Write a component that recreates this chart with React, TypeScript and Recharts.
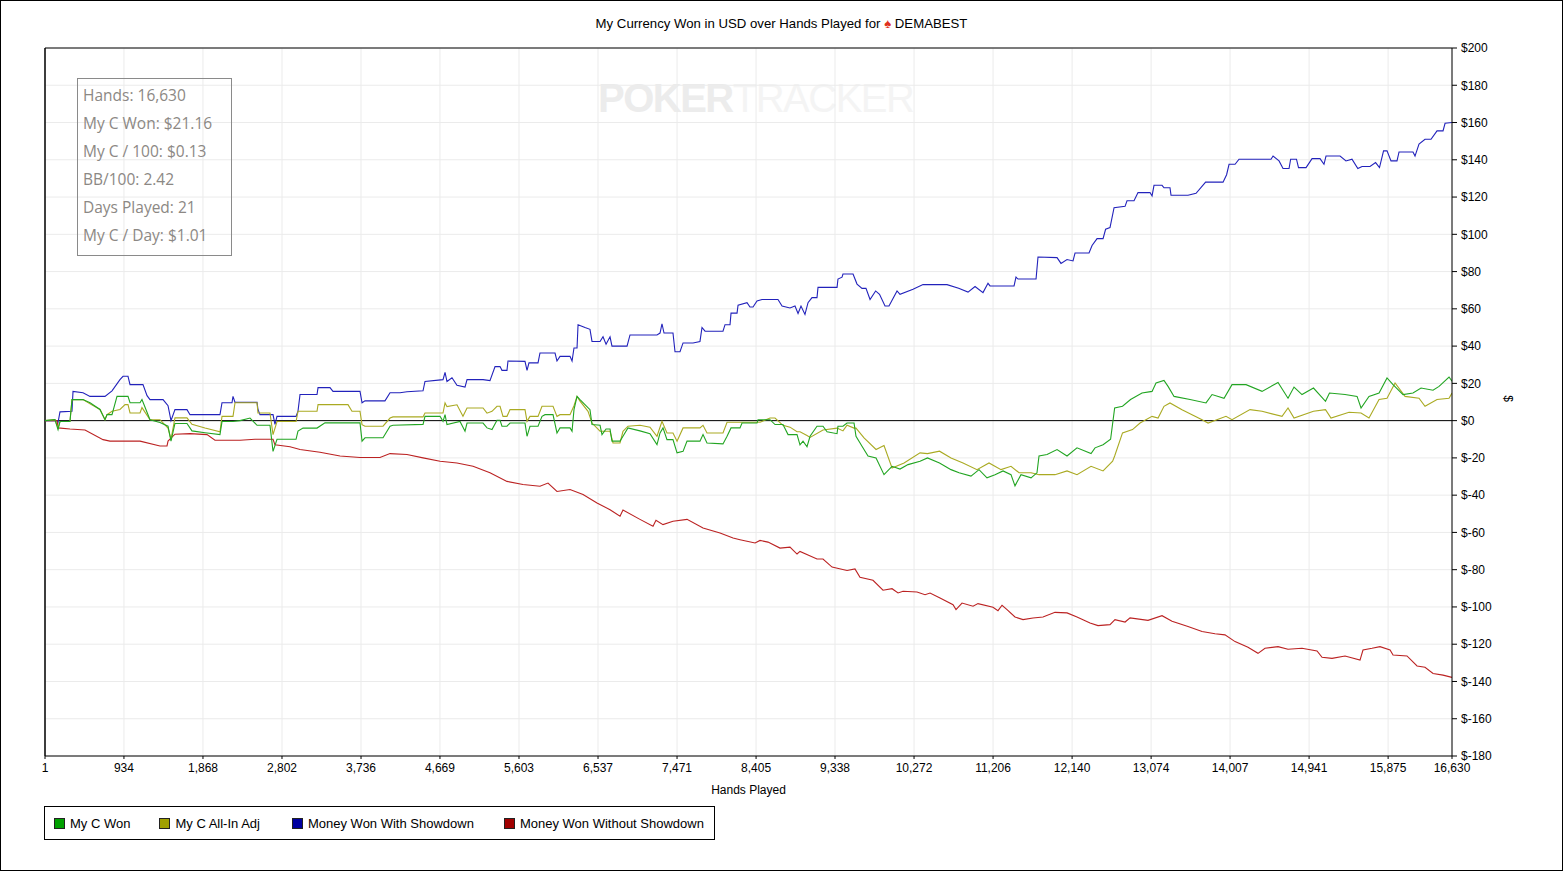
import React from "react";
import { LineChart, Line, XAxis, YAxis, CartesianGrid, ReferenceLine } from "recharts";

// ---------- Data (hands played -> cumulative USD) ----------
const showdownHands = [1,143,155,178,320,332,450,533,710,793,887,923,982,1006,1159,1207,1242,1396,1455,1490,1537,1679,1715,2069,2093,2211,2223,2247,2507,2518,2542,2696,2719,2743,2968,2991,3015,3216,3228,3369,3405,3724,3748,3783,4019,4079,4197,4279,4469,4492,4705,4729,4752,4811,4870,4965,4989,5178,5260,5320,5379,5402,5461,5473,5674,5698,5721,5828,5851,6029,6052,6088,6206,6230,6253,6289,6301,6383,6442,6466,6561,6596,6632,6679,6702,6880,6915,7234,7270,7293,7317,7423,7447,7506,7542,7660,7742,7766,7802,8014,8038,8097,8109,8180,8192,8298,8333,8369,8416,8475,8664,8712,8806,8865,8901,8936,8983,9019,9066,9125,9137,9362,9373,9421,9432,9551,9598,9657,9704,9752,9818,9864,9929,9976,10071,10106,10260,10378,10662,10799,10910,10993,11087,11146,11170,11454,11477,11501,11714,11737,11962,12009,12080,12151,12175,12340,12376,12435,12506,12536,12588,12636,12766,12789,12872,12919,13061,13085,13108,13203,13226,13297,13309,13510,13605,13718,13924,13966,13995,14066,14113,14491,14515,14586,14633,14704,14723,14792,14816,14905,14976,15070,15117,15141,15307,15377,15448,15517,15567,15661,15727,15773,15821,15862,15909,15980,16004,16169,16193,16240,16311,16382,16453,16524,16548,16630];
const showdownWon = [0,0,-1,4.7,5,15.7,15,13,13,16,22,23.8,23.8,19.3,19.3,13.4,11.3,11.3,8,0,5.9,5.9,3.2,3.2,9.6,9.6,13,9.8,9.8,6,3.2,3.2,-2,2.3,2.3,5,14,14,17.7,17.7,15.7,15.7,9.6,10.6,10.6,15,15,15.5,16,21,22,25.9,21,23,19,18,22,22,21.5,29,29,27,27,32,31.8,27,31,31,36.3,36.3,32,34.5,34.5,32,39,39,51.5,50,49,42.5,42.5,45,41,45,40,40,46,46,47,52,47,47,37,37,41.7,41.7,42.5,50,48,48,51.5,51.5,57.7,57.7,62,63.3,61,61,64.2,65,65,61.5,60.5,61.5,57.5,61.5,57,63.3,66,66,71.5,71.5,76,77,78.7,78.7,73.3,71,71,65,69.6,67.8,61.5,61.5,69.6,67.8,70.5,73,73,71,69,72,68.7,73.7,72.3,72.3,77,76,76,87.8,87.5,84.4,86.5,85.7,90,90,94,97.7,97.7,102.7,103.6,114.3,115,118,118,122.4,122.4,120.6,126.3,126.3,125,125,121,121,122,128,128,132,137.6,137.6,140.3,140.3,142,139.4,135.3,135.3,140.3,140.3,135.8,135.8,140.6,140.6,137.6,142,142,139.4,140.3,135.3,136.4,136.4,138.5,135.8,144.8,144.8,139.4,139.4,144.2,144.2,142,148.4,151,151,155.5,155.5,159.6,160];

const wonHands = [1,119,155,178,296,320,450,533,651,710,734,793,852,982,1006,1124,1147,1242,1360,1455,1490,1537,1679,1738,1892,2069,2093,2223,2306,2424,2507,2660,2696,2743,2968,2991,3050,3216,3310,3724,3748,3783,3996,4079,4114,4469,4492,4670,4705,4729,4752,4906,4965,4989,5178,5225,5284,5343,5379,5402,5461,5497,5674,5698,5733,5828,5875,5911,6005,6052,6088,6206,6230,6253,6289,6324,6442,6466,6561,6584,6632,6679,6702,6797,6832,6891,7033,7151,7234,7270,7305,7352,7423,7471,7542,7589,7742,7778,7825,8014,8062,8109,8215,8239,8416,8428,8570,8629,8723,8783,8889,8924,8960,9007,9043,9125,9196,9244,9362,9373,9432,9480,9563,9586,9657,9728,9823,9917,10012,10106,10201,10343,10431,10573,10709,10804,10945,11040,11134,11229,11324,11418,11465,11536,11655,11725,11749,11844,11962,12080,12198,12364,12411,12506,12595,12643,12736,12831,12966,13085,13132,13226,13274,13345,13534,13723,13794,13936,14030,14196,14385,14574,14692,14763,14857,14993,15135,15182,15366,15508,15555,15649,15768,15862,15933,16051,16169,16264,16406,16477,16595,16630];
const myCWon = [0,0.5,-4.8,-0.5,-0.5,11.3,11.3,9.6,6,0.5,3.2,3.2,13,13,9.6,9.6,11.3,0.5,-1,-3,-11,-1.5,-1.5,-5.5,-6.5,-7.5,-0.5,-0.5,0,1.4,-2.5,-2.5,-16.5,-10,-10,-5.6,-4,-4,-1.2,-1.2,-11,-9.2,-9.2,-3,-2.5,-2,2.3,2.3,-0.4,3.2,-2.1,-0.4,-5.7,-1.3,-1.3,-3.9,-4.8,0.2,0.2,-3,-3,-1.3,-1.3,-8.4,-3,-3,2.3,3.2,3.2,-6.6,-3.9,-3.9,-5.7,5.9,13,11.3,5.9,-2.1,-2.5,-7.5,-4.5,-4.5,-11,-11,-8.4,-3.9,-5.5,-7,-12.9,-6.6,-3.9,-10.2,-10.2,-17.3,-16.5,-11,-11,-7.5,-12,-12.5,-8.4,-3.9,-3.9,-1.3,-1.3,0.5,0.5,-2.1,-2.1,-7.5,-7.5,-13,-11,-14,-8.4,-3,-3,-6,-7,-3,-3,-1.3,-1.3,-8.4,-13.8,-19,-20,-29,-24.5,-26,-23.6,-21.8,-20,-22.7,-26.3,-28,-29.8,-26.3,-30.7,-29,-27,-29,-35,-29,-30.7,-28,-19,-18.2,-15.5,-19,-14.6,-17.7,-14.6,-12.9,-10,6.8,7.7,11.3,14.8,15.7,20.2,21.6,18.4,13,11.3,9.5,14,12,19.3,19.3,15.7,20.5,12,18,14,17.5,10.4,14.8,14,13,6.8,13,14.8,22.9,19.3,14,14.8,17.5,16.3,18.4,23.4,21.16];

const allInHands = [1,119,155,178,296,320,450,533,651,710,734,793,887,947,982,1006,1124,1147,1242,1360,1455,1490,1537,1679,1738,1892,2069,2093,2223,2247,2507,2518,2660,2696,2743,2968,2991,3216,3228,3582,3629,3724,3748,3783,3996,4079,4114,4469,4492,4705,4729,4752,4870,4941,4989,5178,5225,5284,5343,5379,5414,5461,5497,5674,5698,5733,5828,5875,6005,6052,6088,6206,6253,6289,6324,6419,6466,6561,6679,6714,6797,6832,6891,7033,7151,7234,7293,7352,7423,7471,7542,7742,7778,7825,8014,8062,8452,8570,8629,8723,8806,8889,8924,9007,9043,9196,9362,9432,9480,9563,9586,9681,9823,9917,10012,10154,10343,10431,10573,10709,10851,11016,11158,11300,11418,11513,11655,11749,11938,12080,12198,12364,12506,12619,12643,12736,12854,12943,13085,13156,13226,13297,13439,13676,13747,13959,14030,14243,14385,14621,14692,14763,14993,15135,15200,15413,15555,15649,15768,15862,15957,16075,16240,16311,16453,16595,16630];
const myCAllIn = [0,0.5,-4,-0.5,-0.5,11.3,11.3,9,6,0.5,3.2,5,6,8.6,8.6,4.1,4.1,7,0.5,0.5,-4,-10,1.5,1.5,-2,-4,-6,2.3,2.3,9.6,9.6,4.1,4.1,-7.5,-0.5,-0.5,5,5,8.6,8.6,5,5,-2.2,-3,-3,1.4,2,2,4.1,4.1,9.5,7.5,8.5,2.3,6.8,6.8,4,5,7.7,7.7,2.3,2.3,5.9,5.9,-0.4,2.3,2.3,7.7,7.7,2.3,3.2,3.2,8,13,10.5,5,-1.3,-5.7,-5.7,-12,-12,-5.7,-3,-2.5,-3.5,-8.4,-0.4,-6.6,-6.6,-11,-3.9,-3.9,-2.5,-6.6,-6.6,-0.9,-0.9,1.4,1.4,-2.5,-3.5,-6,-6,-8,-9,-5,-4,-5.5,-2.5,-4,-4,-9.3,-15.5,-13.4,-25.4,-22.7,-17.3,-17.7,-16.4,-20,-22.7,-26.3,-22.7,-26.3,-24.5,-28,-28,-29,-29,-27,-29,-24.5,-27,-21.8,-19,-6.6,-4.8,-1.3,2.3,1.4,7.7,9.5,5.9,0.5,-1.3,2.3,0.5,5.9,5,2.3,6.8,1.4,5,5.9,1.4,4.5,4.1,1.4,11.3,12,20.2,13,12,7.7,11.3,12,14.8,14];

const noShowdownHands = [1,143,155,296,474,687,769,970,1124,1360,1443,1455,1537,1715,1916,2010,2306,2483,2696,2719,2897,3015,3251,3488,3724,3960,4079,4279,4469,4670,4870,5060,5260,5461,5650,5851,5946,6052,6206,6360,6525,6679,6797,6832,7033,7187,7222,7305,7423,7589,7778,7979,8133,8215,8393,8452,8546,8688,8806,8889,8924,9125,9196,9303,9480,9574,9633,9787,9905,10012,10083,10142,10307,10402,10461,10579,10733,10768,10839,10969,11028,11205,11264,11312,11371,11465,11560,11678,11796,11938,12080,12198,12352,12446,12588,12647,12766,12825,13037,13203,13321,13510,13676,13829,13947,14066,14219,14337,14420,14574,14692,14857,15035,15094,15212,15366,15543,15578,15685,15779,15898,15933,16098,16217,16311,16406,16524,16630];
const noShowdownWon = [0,0,-3.9,-4.5,-5,-10.2,-11,-11,-11,-13.6,-13.6,-11,-7.3,-7,-7.5,-10.5,-10.5,-10,-10,-13,-14,-15.5,-17,-19,-19.8,-19.8,-17.7,-18.2,-20,-21.8,-22.7,-24.5,-28,-32.6,-34.3,-35.2,-33.5,-38,-37,-39.7,-44.2,-47.8,-51.3,-48,-53,-56.7,-53.5,-55.8,-54,-53,-57.6,-60.3,-63,-63.9,-65.7,-64.3,-65.2,-68.4,-67.9,-71.6,-70.2,-74.3,-74.3,-78.6,-80.4,-79.6,-84.1,-85.7,-91,-90.2,-92.5,-91.6,-92,-93.4,-92.5,-95.2,-98.8,-101.4,-97.9,-99.6,-98.2,-100.2,-102,-99.1,-101.4,-105.4,-106.8,-105.9,-105.4,-102.9,-103.2,-105.4,-108.6,-110,-109.5,-106.8,-108.1,-105.9,-107.2,-104.7,-107.7,-110.5,-113.2,-114.4,-115,-118.6,-121.6,-124.9,-122.2,-121.3,-122.7,-122.2,-123.6,-127,-127.6,-126.3,-128.5,-123.1,-122.2,-121.3,-123.1,-125.8,-126.3,-131.7,-132.4,-135.7,-136.6,-137.8];

const xTicks = [1,934,1868,2802,3736,4669,5603,6537,7471,8405,9338,10272,11206,12140,13074,14007,14941,15875,16630];
const yTicks = [-180,-160,-140,-120,-100,-80,-60,-40,-20,0,20,40,60,80,100,120,140,160,180,200];

const statLines = ["Hands: 16,630","My C Won: $21.16","My C / 100: $0.13","BB/100: 2.42","Days Played: 21","My C / Day: $1.01"];

const seriesNames = ["My C Won","My C All-In Adj","Money Won With Showdown","Money Won Without Showdown"];
const lineColors = ["#22a522","#aaaa22","#2222bb","#bb2222"];
const legendColors = ["#00a000","#a0a000","#0000a0","#a00000"];

const toRows = (hs: number[], vs: number[]) => hs.map((h, i) => ({ h, v: vs[i] }));

const fmtHands = (v: number) => v.toLocaleString("en-US");
const fmtUsd = (v: number) => (v < 0 ? "$-" + Math.abs(v) : "$" + v);

const FONT = "'Liberation Sans', Arial, sans-serif";

export default function App() {
  const seriesData = [
    toRows(wonHands, myCWon),
    toRows(allInHands, myCAllIn),
    toRows(showdownHands, showdownWon),
    toRows(noShowdownHands, noShowdownWon),
  ];
  const drawOrder = [2, 3, 1, 0];
  const legendGaps = [29, 32, 30, 0];
  return (
    <div style={{ position: "absolute", left: 0, top: 0, width: 1563, height: 871, background: "#fff", fontFamily: FONT }}>
      <div style={{ position: "absolute", left: 0, top: 16, width: 1563, textAlign: "center", fontSize: 13.2, color: "#000", fontFamily: FONT }}>
        My Currency Won in USD over Hands Played for <span style={{ color: "#e03020" }}>♠</span> DEMABEST
      </div>
      <div style={{ position: "absolute", left: 598, top: 75, fontSize: 40, lineHeight: "46px", whiteSpace: "nowrap", fontFamily: FONT, letterSpacing: -1.5 }}>
        <span style={{ color: "#ececec", fontWeight: 700 }}>POKER</span>
        <span style={{ color: "#f4f4f4" }}>TRACKER</span>
      </div>
      <LineChart
        width={1563}
        height={871}
        margin={{ top: 48, left: 45, right: 41, bottom: 75 }}
        style={{ position: "absolute", left: 0, top: 0 }}
      >
        <CartesianGrid stroke="#ebebeb" strokeWidth={1} />
        <XAxis
          type="number"
          dataKey="h"
          domain={[1, 16630]}
          ticks={xTicks}
          tickFormatter={fmtHands}
          interval={0}
          allowDataOverflow
          height={40}
          stroke="#000"
          tickSize={3}
          tickMargin={4}
          tick={{ fontSize: 12, fill: "#000", fontFamily: FONT }}
          label={{ value: "Hands Played", position: "insideBottom", offset: 2, fontSize: 12, fill: "#000", fontFamily: FONT }}
        />
        <YAxis
          orientation="right"
          type="number"
          domain={[-180, 200]}
          ticks={yTicks}
          tickFormatter={fmtUsd}
          interval={0}
          allowDataOverflow
          width={70}
          stroke="#000"
          tickSize={5}
          tickMargin={4}
          tick={{ fontSize: 12, fill: "#000", fontFamily: FONT, textAnchor: "start" }}
          label={{ value: "$", angle: 90, position: "insideRight", offset: 14, fontSize: 12, fill: "#000", fontFamily: FONT }}
        />
        <ReferenceLine x={1} stroke="#000" strokeWidth={1.5} ifOverflow="visible" />
        <ReferenceLine y={200} stroke="#000" strokeWidth={1} ifOverflow="visible" />
        <ReferenceLine y={0} stroke="#000" strokeWidth={1} />
        {drawOrder.map((i) => (
          <Line
            key={seriesNames[i]}
            data={seriesData[i]}
            dataKey="v"
            name={seriesNames[i]}
            type="linear"
            stroke={lineColors[i]}
            strokeWidth={1.1}
            dot={false}
            activeDot={false}
            isAnimationActive={false}
          />
        ))}
      </LineChart>
      <div style={{ position: "absolute", left: 77, top: 78, width: 155, height: 178, border: "1px solid #8a8a8a", boxSizing: "border-box", padding: "5px 0 0 5px", fontFamily: "'Open Sans', 'Noto Sans', sans-serif", fontSize: 15.5, color: "#8c8884" }}>
        {statLines.map((s) => (
          <div key={s} style={{ height: 28, lineHeight: "23px", whiteSpace: "nowrap" }}>{s}</div>
        ))}
      </div>
      <div style={{ position: "absolute", left: 44, top: 806, width: 671, height: 34, border: "1px solid #000", boxSizing: "border-box", display: "flex", alignItems: "center", paddingLeft: 9, fontSize: 13, fontFamily: FONT, color: "#000" }}>
        {seriesNames.map((n, i) => (
          <div key={n} style={{ display: "flex", alignItems: "center", marginRight: legendGaps[i] }}>
            <div style={{ width: 9, height: 9, background: legendColors[i], border: "1px solid #222", marginRight: 5 }} />
            <span style={{ whiteSpace: "nowrap" }}>{n}</span>
          </div>
        ))}
      </div>
      <div style={{ position: "absolute", left: 0, top: 0, width: 1563, height: 871, border: "1px solid #000", boxSizing: "border-box", pointerEvents: "none" }} />
    </div>
  );
}
